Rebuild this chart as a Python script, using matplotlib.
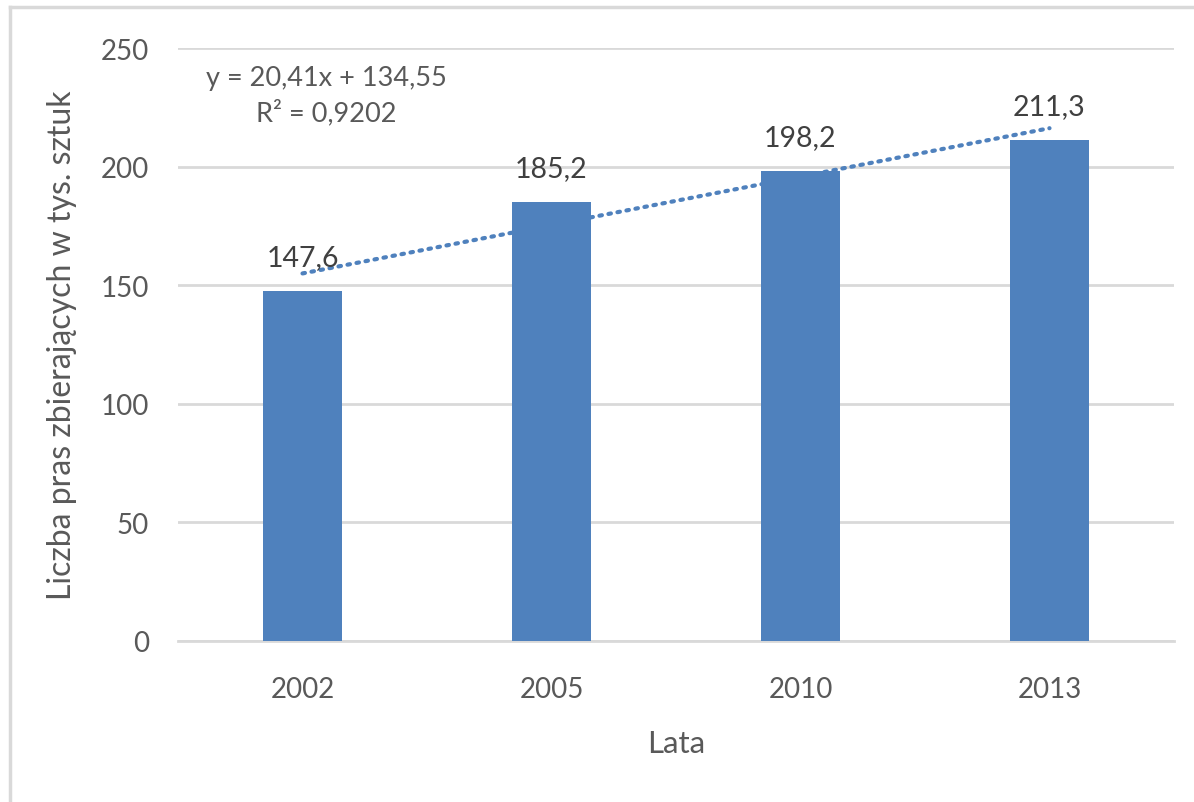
import numpy as np
import matplotlib
matplotlib.use('Agg')
import matplotlib.pyplot as plt
from matplotlib.lines import Line2D

years = ['2002', '2005', '2010', '2013']
values = [147.6, 185.2, 198.2, 211.3]
value_labels = ['147,6', '185,2', '198,2', '211,3']
y_ticks = [0, 50, 100, 150, 200, 250]

bar_color = '#4f81bd'
text_color = '#595959'
grid_color = '#d9d9d9'

plt.rcParams['font.family'] = ['Lato', 'DejaVu Sans']

fig = plt.figure(figsize=(11.94, 8.03), dpi=100)
ax = fig.add_axes([178 / 1194, 1 - 642 / 803, (1174 - 178) / 1194, (642 - 49) / 803])

x = np.arange(len(years))
ax.bar(x, values, width=0.315, color=bar_color, zorder=3)

# linear trend as Excel computes it (x = 1..n)
slope, intercept = np.polyfit(x + 1, values, 1)
ax.plot(x, slope * (x + 1) + intercept, linestyle=(0, (0.6, 1.6)), dash_capstyle='round',
        color=bar_color, linewidth=3, zorder=4)

for xi, v, lab in zip(x, values, value_labels):
    ax.annotate(lab, (xi, v), xytext=(0, 15), textcoords='offset points',
                ha='center', va='bottom', fontsize=20.5, color='#404040', zorder=5)

eq = 'y = {:.2f}x + {:.2f}'.format(slope, intercept).replace('.', ',')
ax.text(0.149, 0.92, eq + '\nR² = 0,9202', transform=ax.transAxes, ha='center', va='center',
        fontsize=19.5, color=text_color, linespacing=1.4)

ax.set_xlim(-0.5, 3.5)
ax.set_ylim(0, 250)
ax.set_yticks(y_ticks)
ax.set_xticks(x)
ax.set_xticklabels(years)
ax.tick_params(axis='both', length=0, labelsize=20, labelcolor=text_color)
ax.tick_params(axis='y', pad=21)
ax.tick_params(axis='x', pad=25)

ax.grid(axis='y', color=grid_color, linewidth=2, zorder=0)
ax.set_axisbelow(True)
for side in ['top', 'right', 'left']:
    ax.spines[side].set_visible(False)
ax.spines['bottom'].set_color(grid_color)
ax.spines['bottom'].set_linewidth(2)

ax.set_xlabel('Lata', fontsize=22.5, color=text_color, labelpad=20)
ax.set_ylabel('Liczba pras zbierających w tys. sztuk', fontsize=23, color=text_color, labelpad=17)

# outer chart border (top and left visible)
fig.add_artist(Line2D([10 / 1194, 1], [1 - 8 / 803, 1 - 8 / 803], transform=fig.transFigure,
                      color=grid_color, linewidth=2.5))
fig.add_artist(Line2D([10 / 1194, 10 / 1194], [0, 1 - 8 / 803], transform=fig.transFigure,
                      color=grid_color, linewidth=2.5))

fig.savefig('out.png', dpi=100, facecolor='white')
